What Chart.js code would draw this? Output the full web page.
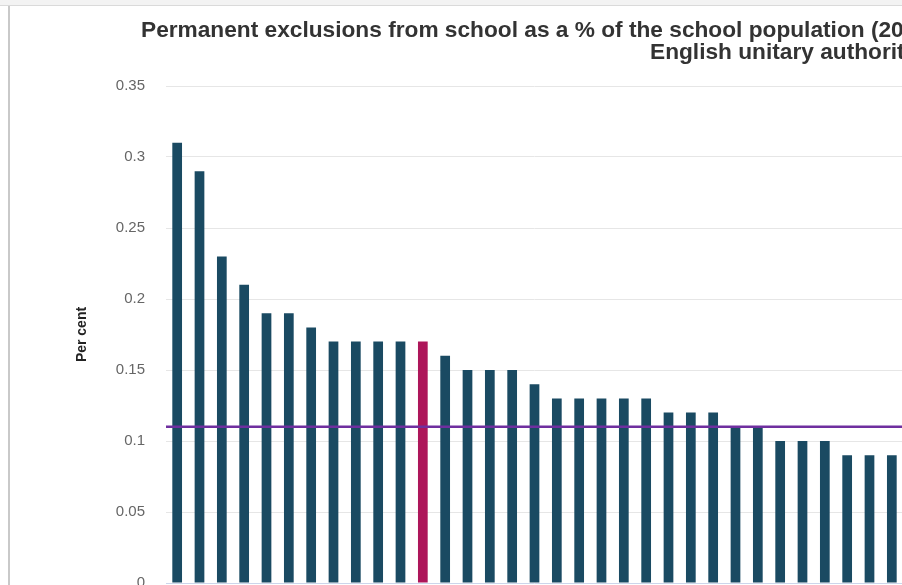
<!DOCTYPE html>
<html>
<head>
<meta charset="utf-8">
<title>Permanent exclusions from school</title>
<script src="https://cdn.jsdelivr.net/npm/chart.js@4.4.1/dist/chart.umd.min.js"></script>
<style>
html, body { margin: 0; padding: 0; background: #fff; overflow: hidden; width: 902px; height: 585px; }
#topbar { position: absolute; left: 0; top: 0; width: 902px; height: 5px; background: #f3f3f3; border-bottom: 1px solid #dadada; }
#edge { position: absolute; left: 8px; top: 6px; width: 2px; height: 610px; background: #c9c9c9; }
#title { position: absolute; left: 0; top: 18px; font: bold 22.7px "Liberation Sans", Arial, sans-serif; line-height: 22px; color: #333; white-space: nowrap; }
#title .l1 { padding-left: 141px; }
#title .l2 { padding-left: 650px; }
#wrap { position: absolute; left: 10px; top: 0; width: 900px; height: 613px; }
</style>
</head>
<body>
<div id="topbar"></div>
<div id="edge"></div>
<div id="wrap"><canvas id="myChart"></canvas></div>
<div id="title">
  <div class="l1">Permanent exclusions from school as a % of the school population (2012/13)</div>
  <div class="l2">English unitary authorities</div>
</div>
<script>
// authorities ranked from highest to lowest exclusion rate
var ranks = ['1', '2', '3', '4', '5', '6', '7', '8', '9', '10', '11', '12', '13', '14', '15', '16', '17',
             '18', '19', '20', '21', '22', '23', '24', '25', '26', '27', '28', '29', '30', '31', '32', '33'];
var exclusions = [0.31, 0.29, 0.23, 0.21, 0.19, 0.19, 0.18, 0.17, 0.17, 0.17, 0.17, 0.17, 0.16, 0.15, 0.15, 0.15, 0.14,
                  0.13, 0.13, 0.13, 0.13, 0.13, 0.12, 0.12, 0.12, 0.11, 0.11, 0.10, 0.10, 0.10, 0.09, 0.09, 0.09];
var selected = 11;        // highlighted authority
var average = 0.11;       // mean of all unitary authorities

var barColors = [];
for (var i = 0; i < exclusions.length; i++) {
    barColors.push(i == selected ? '#ad165a' : '#1a4a62');
}

// average line right across the plot area
var averageLine = {
    id: 'averageLine',
    afterDatasetsDraw: function(chart) {
        var area = chart.chartArea;
        var y = chart.scales.y.getPixelForValue(average);
        var c = chart.ctx;
        c.save();
        c.strokeStyle = '#6f2f9f';
        c.lineWidth = 2.5;
        c.beginPath();
        c.moveTo(area.left, y);
        c.lineTo(area.right, y);
        c.stroke();
        c.restore();
    }
};

var ctx = document.getElementById('myChart').getContext('2d');
var myChart = new Chart(ctx, {
    type: 'bar',
    data: {
        labels: ranks,
        datasets: [
            { label: 'Per cent', data: exclusions,
              backgroundColor: barColors, barPercentage: 0.435, categoryPercentage: 1.0 }
        ]
    },
    options: {
        responsive: true,
        maintainAspectRatio: false,
        animation: false,
        // tick padding (21) + half a label already keeps 30px free under the axis
        layout: { padding: { left: 60, right: 7, top: 86, bottom: 0 } },
        plugins: { legend: { display: false }, tooltip: { enabled: false } },
        scales: {
            x: { display: false },
            y: {
                min: 0, max: 0.35,
                afterFit: function(axis) { axis.width = 96; },
                border: { display: false },
                grid: {
                    drawTicks: false,
                    color: function(c) { return c.tick && c.tick.value === 0 ? '#ccd6eb' : '#e6e6e6'; }
                },
                ticks: { stepSize: 0.05, padding: 21, color: '#666',
                         font: { family: 'Liberation Sans', size: 15 },
                         callback: function(v) { return String(+v.toFixed(2)); } },
                title: { display: true, text: 'Per cent', color: '#222',
                         font: { family: 'Liberation Sans', size: 14, weight: 'bold' } }
            }
        }
    },
    plugins: [averageLine]
});
</script>
</body>
</html>
